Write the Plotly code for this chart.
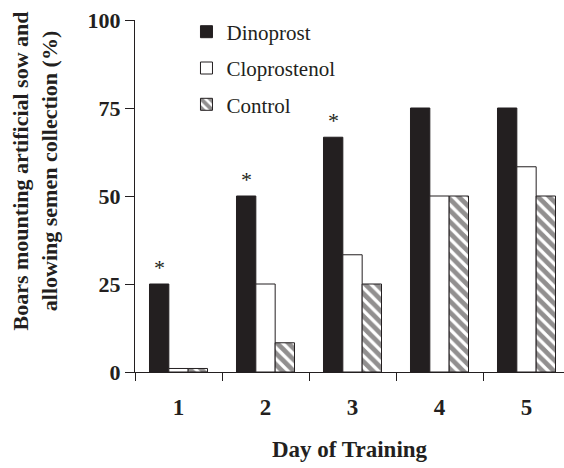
import plotly.graph_objects as go

days = [1, 2, 3, 4, 5]
day_labels = ["1", "2", "3", "4", "5"]
dinoprost = [25, 50, 66.7, 75, 75]
cloprostenol = [1, 25, 33.3, 50, 58.3]
control = [1, 8.3, 25, 50, 50]
star_days = [1, 2, 3]
y_ticks = [0, 25, 50, 75, 100]

INK = "#231f20"
SERIF = "Liberation Serif"
BARGAP = 0.333
bar_w = (1 - BARGAP) / 3

fig = go.Figure()
fig.add_trace(go.Bar(
    x=days, y=dinoprost, name="Dinoprost", legendgroup="a",
    marker=dict(color=INK, line=dict(color=INK, width=1)),
))
fig.add_trace(go.Bar(
    x=days, y=cloprostenol, name="Cloprostenol", legendgroup="b",
    marker=dict(color="white", line=dict(color=INK, width=1)),
))
fig.add_trace(go.Bar(
    x=days, y=control, name="Control", legendgroup="c",
    marker=dict(color="white", line=dict(color=INK, width=1),
                pattern=dict(shape="\\", fgcolor=INK, bgcolor="white",
                             size=8, solidity=0.6)),
))

annotations = []
for d in star_days:
    annotations.append(dict(
        x=d - bar_w, y=dinoprost[days.index(d)], xref="x", yref="y",
        text="*", showarrow=False, yanchor="middle", yshift=17,
        font=dict(family=SERIF, size=22, color=INK),
    ))
annotations.append(dict(
    x=0.5, y=-0.219, xref="paper", yref="paper", text="Day of Training",
    showarrow=False, xanchor="center", yanchor="middle",
    font=dict(family=SERIF, size=23, color=INK, weight="bold"),
))
annotations.append(dict(
    x=-0.232, y=0.571, xref="paper", yref="paper",
    text="Boars mounting artificial sow and<br>allowing semen collection (%)",
    showarrow=False, xanchor="center", yanchor="middle", textangle=-90,
    font=dict(family=SERIF, size=22, color=INK, weight="bold"),
))

fig.update_layout(
    width=564, height=468,
    margin=dict(l=135, r=0, t=20, b=96, autoexpand=False),
    paper_bgcolor="white", plot_bgcolor="white",
    barmode="group", bargap=BARGAP, bargroupgap=0,
    showlegend=True,
    legend=dict(
        x=0.12, y=1.024, xanchor="left", yanchor="top",
        font=dict(family=SERIF, size=21, color=INK),
        bgcolor="rgba(0,0,0,0)", tracegroupgap=6,
        traceorder="grouped",
    ),
    annotations=annotations,
    xaxis=dict(
        range=[0.5, 0.5 + 429 / 87], tickmode="array", tickvals=days,
        ticktext=day_labels, ticks="", showgrid=False, zeroline=False,
        showline=True, linecolor=INK, linewidth=1, automargin=False,
        tickfont=dict(family=SERIF, size=23, color=INK, weight="bold"),
        ticklabelstandoff=14,
        minor=dict(tickvals=[0.5, 1.5, 2.5, 3.5, 4.5], ticks="outside",
                   ticklen=8, tickcolor=INK, tickwidth=1, showgrid=False),
    ),
    yaxis=dict(
        range=[0, 100], tickmode="array", tickvals=y_ticks,
        ticks="outside", ticklen=9, tickcolor=INK, tickwidth=1,
        showgrid=False, zeroline=False, showline=True, linecolor=INK,
        linewidth=1, automargin=False,
        tickfont=dict(family=SERIF, size=22, color=INK, weight="bold"),
    ),
)

fig.write_html("out.html", config={"displayModeBar": False},
               post_script="document.body.style.margin='0';")
